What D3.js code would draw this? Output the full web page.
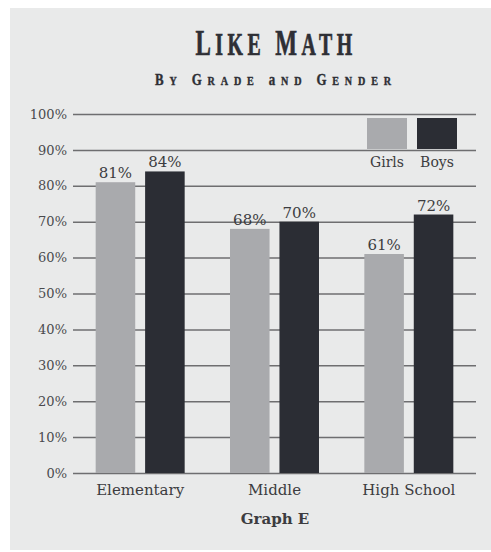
<!DOCTYPE html>
<html>
  <head>
    <meta charset="utf-8">
    <title>Like Math</title>
    <style>
      body { margin: 0; background: #fff; }
      text { font-family: "DejaVu Serif", "Liberation Serif", serif; fill: #3c3c40; }
      .grid line { stroke: #6e6e70; stroke-width: 1.5px; }
      .grid text { font-size: 13px; fill: #4a4a4e; }
    </style>
    <script src="https://cdn.jsdelivr.net/npm/d3@7"></script>
  </head>
  <body>
    <script type="text/javascript">
      // data
      var grades = ["Elementary", "Middle", "High School"];
      var genders = ["Girls", "Boys"];
      var girls = [81, 68, 61];
      var boys = [84, 70, 72];
      var ticks = [0, 10, 20, 30, 40, 50, 60, 70, 80, 90, 100];
      var colors = ["#a9aaad", "#2b2d34"];

      var W = 491, H = 552;
      var svg = d3.select("body").append("svg")
        .attr("width", W).attr("height", H);

      // panel
      svg.append("rect")
        .attr("x", 10).attr("y", 8)
        .attr("width", W - 10).attr("height", 542)
        .attr("fill", "#e9eaea");

      var plotL = 73, plotR = 476, plotT = 114, plotB = 473;

      var x = d3.scaleBand().domain(grades).range([plotL, plotR]);
      var xg = d3.scaleBand().domain(genders).range([0, 89]).paddingInner(0.2);
      var y = d3.scaleLinear().domain([0, 100]).range([plotB, plotT]);

      // gridlines + tick labels
      var g = svg.append("g")
        .attr("class", "grid")
        .attr("transform", "translate(" + plotL + ",0)")
        .call(d3.axisLeft(y).tickValues(ticks)
          .tickSize(-(plotR - plotL)).tickPadding(6)
          .tickFormat(function(d) { return d + "%"; }));
      g.select(".domain").remove();

      // bars
      var rows = grades.map(function(c, i) {
        return {grade: c, vals: [{k: "Girls", v: girls[i]}, {k: "Boys", v: boys[i]}]};
      });

      var groups = svg.selectAll(".grp")
        .data(rows).enter().append("g")
        .attr("transform", function(d) {
          return "translate(" + (x(d.grade) + x.bandwidth() / 2 - 44.5) + ",0)";
        });

      groups.selectAll("rect")
        .data(function(d) { return d.vals; })
        .enter().append("rect")
        .attr("x", function(d) { return xg(d.k); })
        .attr("width", xg.bandwidth())
        .attr("y", function(d) { return y(d.v); })
        .attr("height", function(d) { return plotB - y(d.v); })
        .attr("fill", function(d, i) { return colors[i]; });

      groups.selectAll(".val")
        .data(function(d) { return d.vals; })
        .enter().append("text")
        .attr("x", function(d) { return xg(d.k) + xg.bandwidth() / 2; })
        .attr("y", function(d) { return y(d.v) - 4; })
        .attr("text-anchor", "middle")
        .style("font-size", "15px")
        .text(function(d) { return d.v + "%"; });

      // category labels
      svg.selectAll(".cat")
        .data(grades).enter().append("text")
        .attr("x", function(d) { return x(d) + x.bandwidth() / 2; })
        .attr("y", 495)
        .attr("text-anchor", "middle")
        .style("font-size", "15px")
        .text(function(d) { return d; });

      svg.append("text")
        .attr("x", 275).attr("y", 524)
        .attr("text-anchor", "middle")
        .style("font-size", "15px")
        .style("font-weight", "bold")
        .text("Graph E");

      // legend
      var lg = svg.append("g").attr("transform", "translate(367,0)");
      genders.forEach(function(k, i) {
        lg.append("rect")
          .attr("x", i * 50).attr("y", 118)
          .attr("width", 40).attr("height", 31)
          .attr("fill", colors[i]);
        lg.append("text")
          .attr("x", i * 50 + 20).attr("y", 167)
          .attr("text-anchor", "middle")
          .style("font-size", "14px")
          .text(k);
      });

      // small-caps titles
      function smallCaps(sel, str, big, small) {
        str.split(" ").forEach(function(w, i) {
          sel.append("tspan").style("font-size", big + "px")
            .text((i ? " " : "") + w[0]);
          sel.append("tspan").style("font-size", small + "px")
            .text(w.slice(1).toUpperCase());
        });
      }

      var t1 = svg.append("text")
        .attr("text-anchor", "middle")
        .attr("transform", "translate(276,55) scale(0.64,1)")
        .style("font-family", "Liberation Serif, serif")
        .style("font-weight", "bold")
        .style("letter-spacing", "7px")
        .style("fill", "#2e2f35")
        .style("stroke", "#2e2f35").style("stroke-width", "0.7px");
      smallCaps(t1, "Like Math", 36, 31);

      var t2 = svg.append("text")
        .attr("text-anchor", "middle")
        .attr("transform", "translate(276,85) scale(0.78,1)")
        .style("font-family", "Liberation Serif, serif")
        .style("font-weight", "bold")
        .style("letter-spacing", "7.5px")
        .style("fill", "#2e2f35")
        .style("stroke", "#2e2f35").style("stroke-width", "0.4px");
      smallCaps(t2, "By Grade and Gender", 16.5, 13);
    </script>
  </body>
</html>
